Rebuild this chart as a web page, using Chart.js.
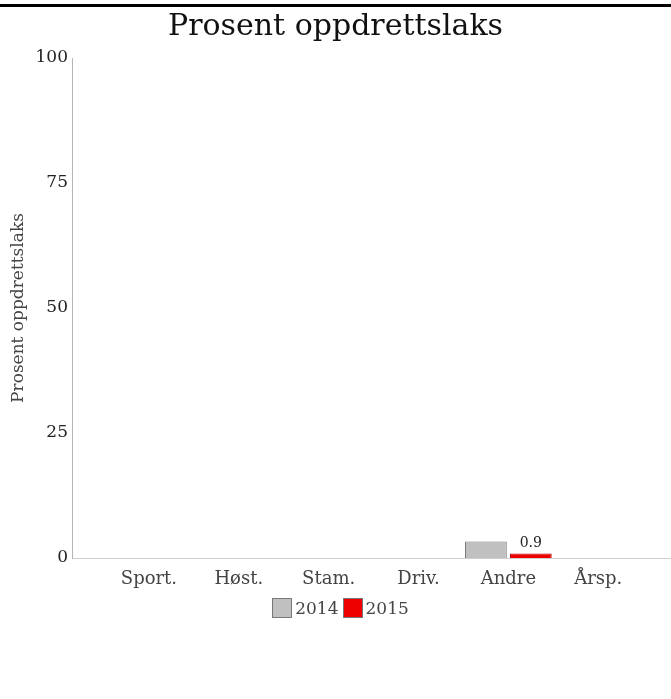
<!DOCTYPE html>
<html>
<head>
    <meta charset="utf-8">
    <title>Prosent oppdrettslaks</title>
    <style>
        body {
            margin: 0;
            padding: 0;
            background-color: white;
        }
        .topline {
            position: absolute;
            left: 0;
            top: 4px;
            width: 671px;
            height: 3px;
            background-color: #000;
        }
        .wrap {
            position: absolute;
            left: 0;
            top: 0;
            width: 671px;
            height: 699px;
        }
        .legend {
            position: absolute;
            left: 7px;
            top: 598px;
            width: 671px;
            display: flex;
            justify-content: center;
            font-family: 'DejaVu Serif', serif;
            font-size: 17px;
            color: #444;
            line-height: 20px;
        }
        .legend .item {
            display: flex;
            align-items: center;
            margin-right: 4px;
        }
        .legend .box {
            width: 18px;
            height: 18px;
            border: 1px solid #777;
            margin-right: 3px;
        }
    </style>
    <script src="https://cdn.jsdelivr.net/npm/chart.js@4.4.0/dist/chart.umd.min.js"></script>
</head>
<body>
    <div class="wrap"><canvas id="laksChart"></canvas></div>
    <div class="topline"></div>
    <div class="legend" id="legend"></div>

    <script>
        // Data
        const categories = ['Sport.', 'Høst.', 'Stam.', 'Driv.', 'Andre', 'Årsp.'];
        const values2014 = [0, 0, 0, 0, 3.3, 0];
        const values2015 = [0, 0, 0, 0, 0.9, 0];
        const yTicks = [0, 25, 50, 75, 100];

        const serif = "'DejaVu Serif', 'Liberation Serif', serif";

        function toPoints(vals) {
            return vals.map(function(v, i) { return { x: i, y: v }; });
        }

        // Value label above non-zero 2015 bars
        const valueLabels = {
            id: 'valueLabels',
            afterDatasetsDraw: function(chart) {
                const ctx = chart.ctx;
                const meta = chart.getDatasetMeta(1);
                ctx.save();
                ctx.font = "14px " + serif;
                ctx.fillStyle = '#222';
                ctx.textAlign = 'center';
                ctx.textBaseline = 'bottom';
                meta.data.forEach(function(bar, i) {
                    const v = values2015[i];
                    if (v > 0) {
                        ctx.fillText(v.toFixed(1), bar.x, bar.y - 3);
                    }
                });
                ctx.restore();
            }
        };

        const canvas = document.getElementById('laksChart');
        const chart = new Chart(canvas, {
            type: 'bar',
            data: {
                datasets: [
                    {
                        label: '2014',
                        data: toPoints(values2014),
                        backgroundColor: '#c0c0c0',
                        borderColor: '#7a7a7a',
                        borderWidth: 1,
                        categoryPercentage: 1,
                        barPercentage: 0.93
                    },
                    {
                        label: '2015',
                        data: toPoints(values2015),
                        backgroundColor: '#ee0000',
                        borderColor: '#b00000',
                        borderWidth: 1,
                        categoryPercentage: 1,
                        barPercentage: 0.93
                    }
                ]
            },
            options: {
                responsive: true,
                maintainAspectRatio: false,
                animation: false,
                layout: {
                    padding: { top: 9, left: 0, right: 0, bottom: 105 }
                },
                plugins: {
                    title: {
                        display: true,
                        text: 'Prosent oppdrettslaks',
                        color: '#111',
                        font: { family: serif, size: 30, weight: 'normal' },
                        padding: { top: 0, bottom: 13 }
                    },
                    legend: { display: false },
                    tooltip: { enabled: false }
                },
                scales: {
                    x: {
                        type: 'linear',
                        offset: false,
                        min: -0.856,
                        max: 5.81,
                        grid: { display: false, offset: false, drawTicks: false },
                        border: { display: true, color: '#cfcfcf', width: 1 },
                        afterBuildTicks: function(scale) {
                            scale.ticks = categories.map(function(c, i) { return { value: i }; });
                        },
                        ticks: {
                            color: '#444',
                            font: { family: serif, size: 18 },
                            padding: 11,
                            maxRotation: 0,
                            autoSkip: false,
                            callback: function(value) { return categories[value]; }
                        },
                        afterFit: function(scale) { scale.height = 36; }
                    },
                    y: {
                        min: 0,
                        max: 100,
                        afterBuildTicks: function(scale) {
                            scale.ticks = yTicks.map(function(v) { return { value: v }; });
                        },
                        grid: { display: false, drawTicks: false },
                        border: { display: true, color: '#b5b5b5', width: 1 },
                        ticks: {
                            color: '#222',
                            font: { family: serif, size: 17 },
                            padding: 4
                        },
                        title: {
                            display: true,
                            text: 'Prosent oppdrettslaks',
                            color: '#444',
                            font: { family: serif, size: 17 },
                            padding: { top: 8, bottom: 6 }
                        },
                        afterFit: function(scale) { scale.width = 72; }
                    }
                }
            },
            plugins: [valueLabels]
        });

        // HTML legend built from the datasets
        const legendEl = document.getElementById('legend');
        chart.data.datasets.forEach(function(ds) {
            const item = document.createElement('div');
            item.className = 'item';
            const box = document.createElement('div');
            box.className = 'box';
            box.style.backgroundColor = ds.backgroundColor;
            const txt = document.createElement('span');
            txt.textContent = ds.label;
            item.appendChild(box);
            item.appendChild(txt);
            legendEl.appendChild(item);
        });
    </script>
</body>
</html>
